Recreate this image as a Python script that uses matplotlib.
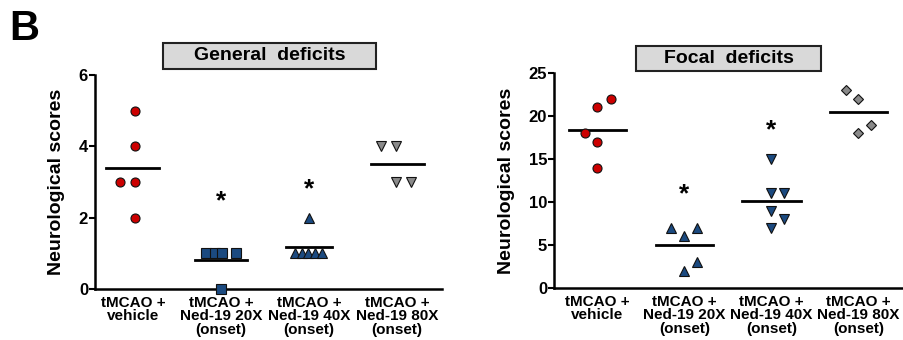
import matplotlib
matplotlib.use('Agg')
import matplotlib.pyplot as plt
from matplotlib.patches import Rectangle

plt.rcParams['font.family'] = ['Liberation Sans', 'DejaVu Sans']
plt.rcParams['font.weight'] = 'bold'

groups = ['tMCAO +\nvehicle', 'tMCAO +\nNed-19 20X\n(onset)',
          'tMCAO +\nNed-19 40X\n(onset)', 'tMCAO +\nNed-19 80X\n(onset)']

# general deficits: (values, x jitter in category units)
gen_vals = [
    [5, 4, 3, 3, 2],
    [1, 1, 1, 1, 0],
    [2, 1, 1, 1, 1, 1],
    [4, 4, 3, 3],
]
gen_jit = [
    [0.02, 0.02, -0.15, 0.02, 0.02],
    [-0.17, -0.07, 0.01, 0.17, 0.0],
    [0.0, -0.16, -0.08, -0.01, 0.07, 0.15],
    [-0.18, -0.01, -0.01, 0.16],
]
gen_star = [None, 2.45, 2.8, None]

# focal deficits
foc_vals = [
    [22, 21, 18, 17, 14],
    [7, 7, 6, 3, 2],
    [15, 11, 11, 9, 8, 7],
    [23, 22, 19, 18],
]
foc_jit = [
    [0.15, 0.0, -0.14, 0.0, 0.0],
    [-0.15, 0.14, 0.0, 0.14, 0.0],
    [0.0, 0.0, 0.14, 0.0, 0.14, 0.0],
    [-0.14, 0.0, 0.15, 0.0],
]
foc_star = [None, 10.9, 18.3, None]

colors = ['#cc0000', '#1b4a80', '#1b4a80', '#8a8a8a']
gen_markers = ['o', 's', '^', 'v']
foc_markers = ['o', '^', 'v', 'D']


def draw(ax, vals, jit, star, markers, ylim, yticks, line_w):
    for i, (v, j) in enumerate(zip(vals, jit)):
        xs = [i + d for d in j]
        ms = 6.5 if markers[i] != 'D' else 5.5
        ax.plot(xs, v, linestyle='none', marker=markers[i], markersize=ms,
                markerfacecolor=colors[i], markeredgecolor='#111111',
                markeredgewidth=0.8, clip_on=False, zorder=3)
        m = sum(v) / len(v)
        ax.plot([i - line_w[i] / 2, i + line_w[i] / 2], [m, m], color='black',
                linewidth=2, zorder=2)
        if star[i] is not None:
            ax.text(i, star[i], '*', ha='center', va='center', fontsize=19,
                    fontweight='bold')
    ax.set_ylim(*ylim)
    ax.set_yticks(yticks)
    ax.set_xticks(range(4))
    ax.set_xticklabels(groups, fontsize=11, fontweight='bold', linespacing=0.95)
    ax.spines['top'].set_visible(False)
    ax.spines['right'].set_visible(False)
    for s in ('left', 'bottom'):
        ax.spines[s].set_linewidth(1.8)
    ax.tick_params(axis='y', length=4, width=1.5, labelsize=12, pad=1)
    ax.tick_params(axis='x', length=0, pad=5)
    for t in ax.get_yticklabels():
        t.set_fontweight('bold')
    ax.set_ylabel('Neurological scores', fontsize=14, fontweight='bold',
                  labelpad=10)


fig = plt.figure(figsize=(9.04, 3.4), dpi=100)

ax1 = fig.add_axes([95 / 904, 51 / 340, 347 / 904, 214 / 340])
ax1.set_xlim(-0.43, 3.51)
draw(ax1, gen_vals, gen_jit, gen_star, gen_markers, (0, 6), [0, 2, 4, 6],
     [0.6, 0.6, 0.52, 0.6])

ax2 = fig.add_axes([554 / 904, 52 / 340, 360 / 904, 215 / 340])
ax2.set_xlim(-0.5, 3.64)
draw(ax2, foc_vals, foc_jit, foc_star, foc_markers, (0, 25),
     [0, 5, 10, 15, 20, 25], [0.66, 0.66, 0.68, 0.66])

# title boxes
for (x0, y0, w, h), label in [((163, 43, 213, 26), 'General  deficits'),
                               ((636, 46, 185, 25), 'Focal  deficits')]:
    fig.patches.append(Rectangle((x0 / 904, 1 - (y0 + h) / 340), w / 904, h / 340,
                                 transform=fig.transFigure, facecolor='#d9d9d9',
                                 edgecolor='#222222', linewidth=1.5))
    fig.text((x0 + w / 2) / 904, 1 - (y0 + h / 2) / 340, label, ha='center',
             va='center', fontsize=14, fontweight='bold')

fig.text(9 / 904, 1 - 29 / 340, 'B', fontsize=30, fontweight='bold',
         va='center', ha='left')

fig.savefig('out.png', dpi=100)
